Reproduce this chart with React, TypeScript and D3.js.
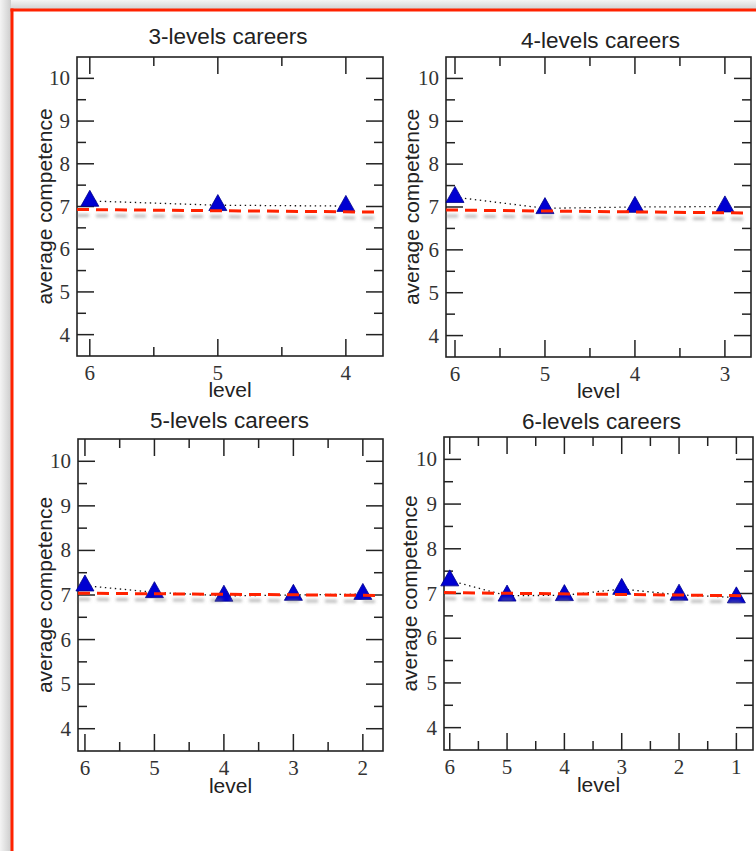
import React from "react";
import * as d3 from "d3";

// Average competence per hierarchy level, one series per career length
const panelTitles = ["3-levels careers", "4-levels careers", "5-levels careers", "6-levels careers"];

const levels3 = [6, 5, 4];
const competence3 = [7.13, 7.03, 7.01];
const levels4 = [6, 5, 4, 3];
const competence4 = [7.23, 6.97, 7.0, 7.01];
const levels5 = [6, 5, 4, 3, 2];
const competence5 = [7.21, 7.06, 6.98, 7.0, 7.02];
const levels6 = [6, 5, 4, 3, 2, 1];
const competence6 = [7.29, 6.95, 6.96, 7.1, 6.97, 6.91];

// Reference trend (red dashed): level at start and end, competence at start and end
const trend3X = [6.1, 3.77];
const trend3Y = [6.93, 6.87];
const trend4X = [6.1, 2.77];
const trend4Y = [6.93, 6.86];
const trend5X = [6.1, 1.76];
const trend5Y = [7.04, 6.99];
const trend6X = [6.1, 0.86];
const trend6Y = [7.02, 6.95];

const yTickValues = [4, 5, 6, 7, 8, 9, 10];
const yMinorValues = [4.5, 5.5, 6.5, 7.5, 8.5, 9.5];
const yDomain = [3.5, 10.5];
const xAxisLabel = "level";
const yAxisLabel = "average competence";

// Plot boxes (pixel layout)
const boxes = [
  { left: 77, right: 383, top: 57, bottom: 356, titleDx: -2, titleDy: -13, labelDy: 41, yLabelDx: -25 },
  { left: 446, right: 751, top: 57, bottom: 357, titleDx: 2, titleDy: -9, labelDy: 41, yLabelDx: -27 },
  { left: 78, right: 383, top: 439, bottom: 751, titleDx: -1, titleDy: -11, labelDy: 42, yLabelDx: -26 },
  { left: 444, right: 753, top: 437, bottom: 750, titleDx: 3, titleDy: -8, labelDy: 42, yLabelDx: -27 },
];

const series = [
  { levels: levels3, values: competence3, tx: trend3X, ty: trend3Y },
  { levels: levels4, values: competence4, tx: trend4X, ty: trend4Y },
  { levels: levels5, values: competence5, tx: trend5X, ty: trend5Y },
  { levels: levels6, values: competence6, tx: trend6X, ty: trend6Y },
];

const SANS = "'Liberation Sans', Arial, Helvetica, sans-serif";
const SERIF = "'Liberation Serif', 'Times New Roman', serif";
const AXIS = "#222";
const MAJOR = 17;
const MINOR = 9;

function Panel({ idx }: { idx: number }) {
  const b = boxes[idx];
  const s = series[idx];
  const minLevel = d3.min(s.levels) as number;
  const x = d3.scaleLinear().domain([6.1, minLevel - 0.29]).range([b.left, b.right]);
  const y = d3.scaleLinear().domain(yDomain).range([b.bottom, b.top]);
  const xMinor = d3.range(minLevel, 6).map((v) => v + 0.5);

  const pts: [number, number][] = s.levels.map((l, i) => [x(l), y(s.values[i])]);
  const dotted = d3.line()(pts) || "";
  const trend = d3.line()(s.tx.map((lv, i) => [x(lv), y(s.ty[i])] as [number, number])) || "";

  const tw = 18;
  const th = 16;
  const tri = (cx: number, cy: number) =>
    `M${cx},${cy - (2 * th) / 3}L${cx + tw / 2},${cy + th / 3}L${cx - tw / 2},${cy + th / 3}Z`;

  const cx = (b.left + b.right) / 2;
  const cy = (b.top + b.bottom) / 2;

  return (
    <g>
      <text x={cx + b.titleDx} y={b.top + b.titleDy} textAnchor="middle" fontFamily={SANS} fontSize={22.5} fill="#222">
        {panelTitles[idx]}
      </text>
      {/* ticks, mirrored on all four sides */}
      {s.levels.map((l) => (
        <g key={"xm" + l}>
          <line x1={x(l)} x2={x(l)} y1={b.bottom} y2={b.bottom - MAJOR} stroke={AXIS} strokeWidth={1.5} />
          <line x1={x(l)} x2={x(l)} y1={b.top} y2={b.top + MAJOR} stroke={AXIS} strokeWidth={1.5} />
          <text x={x(l)} y={b.bottom + 24} textAnchor="middle" fontFamily={SERIF} fontSize={21} fill="#333">
            {l}
          </text>
        </g>
      ))}
      {xMinor.map((l) => (
        <g key={"xn" + l}>
          <line x1={x(l)} x2={x(l)} y1={b.bottom} y2={b.bottom - MINOR} stroke={AXIS} strokeWidth={1.5} />
          <line x1={x(l)} x2={x(l)} y1={b.top} y2={b.top + MINOR} stroke={AXIS} strokeWidth={1.5} />
        </g>
      ))}
      {yTickValues.map((v) => (
        <g key={"ym" + v}>
          <line x1={b.left} x2={b.left + MAJOR} y1={y(v)} y2={y(v)} stroke={AXIS} strokeWidth={1.5} />
          <line x1={b.right} x2={b.right - MAJOR} y1={y(v)} y2={y(v)} stroke={AXIS} strokeWidth={1.5} />
          <text x={b.left - 7} y={y(v) + 7} textAnchor="end" fontFamily={SERIF} fontSize={21} fill="#333">
            {v}
          </text>
        </g>
      ))}
      {yMinorValues.map((v) => (
        <g key={"yn" + v}>
          <line x1={b.left} x2={b.left + MINOR} y1={y(v)} y2={y(v)} stroke={AXIS} strokeWidth={1.5} />
          <line x1={b.right} x2={b.right - MINOR} y1={y(v)} y2={y(v)} stroke={AXIS} strokeWidth={1.5} />
        </g>
      ))}
      <rect x={b.left} y={b.top} width={b.right - b.left} height={b.bottom - b.top} fill="none" stroke={AXIS} strokeWidth={1.6} />
      <text x={cx} y={b.bottom + b.labelDy} textAnchor="middle" fontFamily={SANS} fontSize={21} fill="#222">
        {xAxisLabel}
      </text>
      <text
        transform={`translate(${b.left + b.yLabelDx},${cy}) rotate(-90)`}
        textAnchor="middle"
        fontFamily={SANS}
        fontSize={21}
        fill="#222"
      >
        {yAxisLabel}
      </text>
      {/* data */}
      <path d={dotted} fill="none" stroke="#111" strokeWidth={1.3} strokeDasharray="1.4 3.6" />
      {pts.map(([px, py], i) => (
        <path key={"t" + i} d={tri(px, py)} fill="#0000d2" stroke="#00008a" strokeWidth={0.8} />
      ))}
      <path d={trend} fill="none" stroke="#ff2200" strokeWidth={3} strokeDasharray="12 7" filter="url(#trendShadow)" />
    </g>
  );
}

export default function App() {
  return (
    <svg
      width={756}
      height={851}
      style={{ position: "absolute", left: 0, top: 0, display: "block" }}
      xmlns="http://www.w3.org/2000/svg"
    >
      <defs>
        <linearGradient id="topShade" x1="0" y1="0" x2="0" y2="1">
          <stop offset="0" stopColor="#f4f4f4" />
          <stop offset="1" stopColor="#d2d2d2" />
        </linearGradient>
        <linearGradient id="leftShade" x1="0" y1="0" x2="1" y2="0">
          <stop offset="0" stopColor="#f4f4f4" />
          <stop offset="1" stopColor="#cdcdcd" />
        </linearGradient>
        <filter id="trendShadow" filterUnits="userSpaceOnUse" x="0" y="0" width="756" height="851">
          <feDropShadow dx="0" dy="6" stdDeviation="1.6" floodColor="#777" floodOpacity="0.5" />
        </filter>
      </defs>
      <rect x={0} y={0} width={756} height={851} fill="#f2f2f2" />
      <rect x={0} y={0} width={756} height={9} fill="url(#topShade)" />
      <rect x={0} y={0} width={11} height={851} fill="url(#leftShade)" />
      <rect x={12} y={10} width={744} height={841} fill="#ffffff" />
      <line x1={10.5} x2={756} y1={10} y2={10} stroke="#ff2200" strokeWidth={3} />
      <line x1={12} x2={12} y1={8.5} y2={851} stroke="#ff2200" strokeWidth={3} />
      {[0, 1, 2, 3].map((i) => (
        <Panel key={i} idx={i} />
      ))}
    </svg>
  );
}
